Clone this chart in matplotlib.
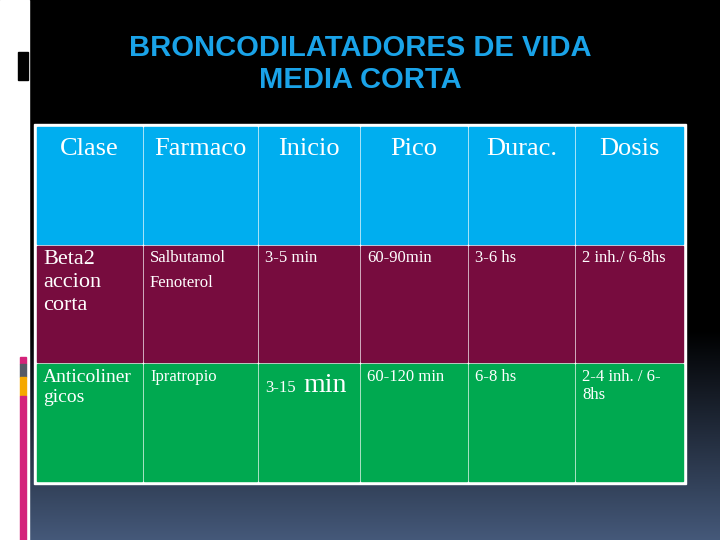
import matplotlib.pyplot as plt
import numpy as np
from matplotlib.patches import Rectangle

title = "BRONCODILATADORES DE VIDA\nMEDIA CORTA"
headers = ["Clase", "Farmaco", "Inicio", "Pico", "Durac.", "Dosis"]
row_beta = ["Beta2\naccion\ncorta", "Salbutamol\nFenoterol", "3-5 min", "60-90min", "3-6 hs", "2 inh./ 6-8hs"]
row_anti = ["Anticoliner\ngicos", "Ipratropio", "3-15", "60-120 min", "6-8 hs", "2-4 inh. / 6-\n8hs"]
row_colors = ["#00aeef", "#770c3e", "#00a950"]

col_edges = [36, 143, 258, 360, 468, 575, 684]
row_edges = [126, 245, 363, 482]

fig = plt.figure(figsize=(7.2, 5.4), dpi=100)
ax = fig.add_axes([0, 0, 1, 1])
ax.set_xlim(0, 720)
ax.set_ylim(540, 0)
ax.axis("off")

# background: black fading to slate blue at the bottom
t = np.clip((np.arange(540) - 330) / 210, 0, 1)
bg = np.zeros((540, 1, 3))
for k, c in enumerate([0x45, 0x59, 0x7a]):
    bg[:, 0, k] = t * c / 255
ax.imshow(bg, extent=[29, 720, 540, 0], aspect="auto", zorder=0)
ax.add_patch(Rectangle((0, 0), 29, 540, color="white", zorder=1))
ax.add_patch(Rectangle((18, 52), 10, 28, color="black", zorder=2))
for y0, y1, c in [(357, 364, "#d4237a"), (364, 377, "#555a66"), (377, 396, "#f5a800"), (396, 540, "#d4237a")]:
    ax.add_patch(Rectangle((20, y0), 6, y1 - y0, color=c, zorder=2))

ax.text(360, 64, title, color="#1aa3e8", fontsize=21, fontweight="bold",
        ha="center", va="center", linespacing=1.15, family="Liberation Sans")

# table
ax.add_patch(Rectangle((34, 124), 652, 360, color="white", zorder=2))
for r, color in enumerate(row_colors):
    for c in range(6):
        x0, x1 = col_edges[c], col_edges[c + 1]
        y0, y1 = row_edges[r], row_edges[r + 1]
        ax.add_patch(Rectangle((x0 + 1, y0 + 1), x1 - x0 - 2, y1 - y0 - 2, color=color, zorder=3))

for c, h in enumerate(headers):
    xc = (col_edges[c] + col_edges[c + 1]) / 2
    ax.text(xc, 149, h, color="white", fontsize=19, ha="center", va="center",
            family="Liberation Serif", zorder=4)

sizes_beta = [16, 12, 12, 12, 12, 12]
for c, txt in enumerate(row_beta):
    ax.text(col_edges[c] + 7, 250, txt, color="white", fontsize=sizes_beta[c], ha="left", va="top",
            family="Liberation Serif", linespacing=1.3 if c == 0 else 1.75, zorder=4)

sizes_anti = [14, 12, 12, 12, 12, 12]
for c, txt in enumerate(row_anti):
    ax.text(col_edges[c] + 7, 392 if c == 2 else 369, txt, color="white", fontsize=sizes_anti[c],
            ha="left", va="baseline" if c == 2 else "top",
            family="Liberation Serif", linespacing=1.2, zorder=4)
ax.text(303, 392, "min", color="white", fontsize=20, ha="left", va="baseline",
        family="Liberation Serif", zorder=4)

fig.savefig("out.png", dpi=100, facecolor="black")
